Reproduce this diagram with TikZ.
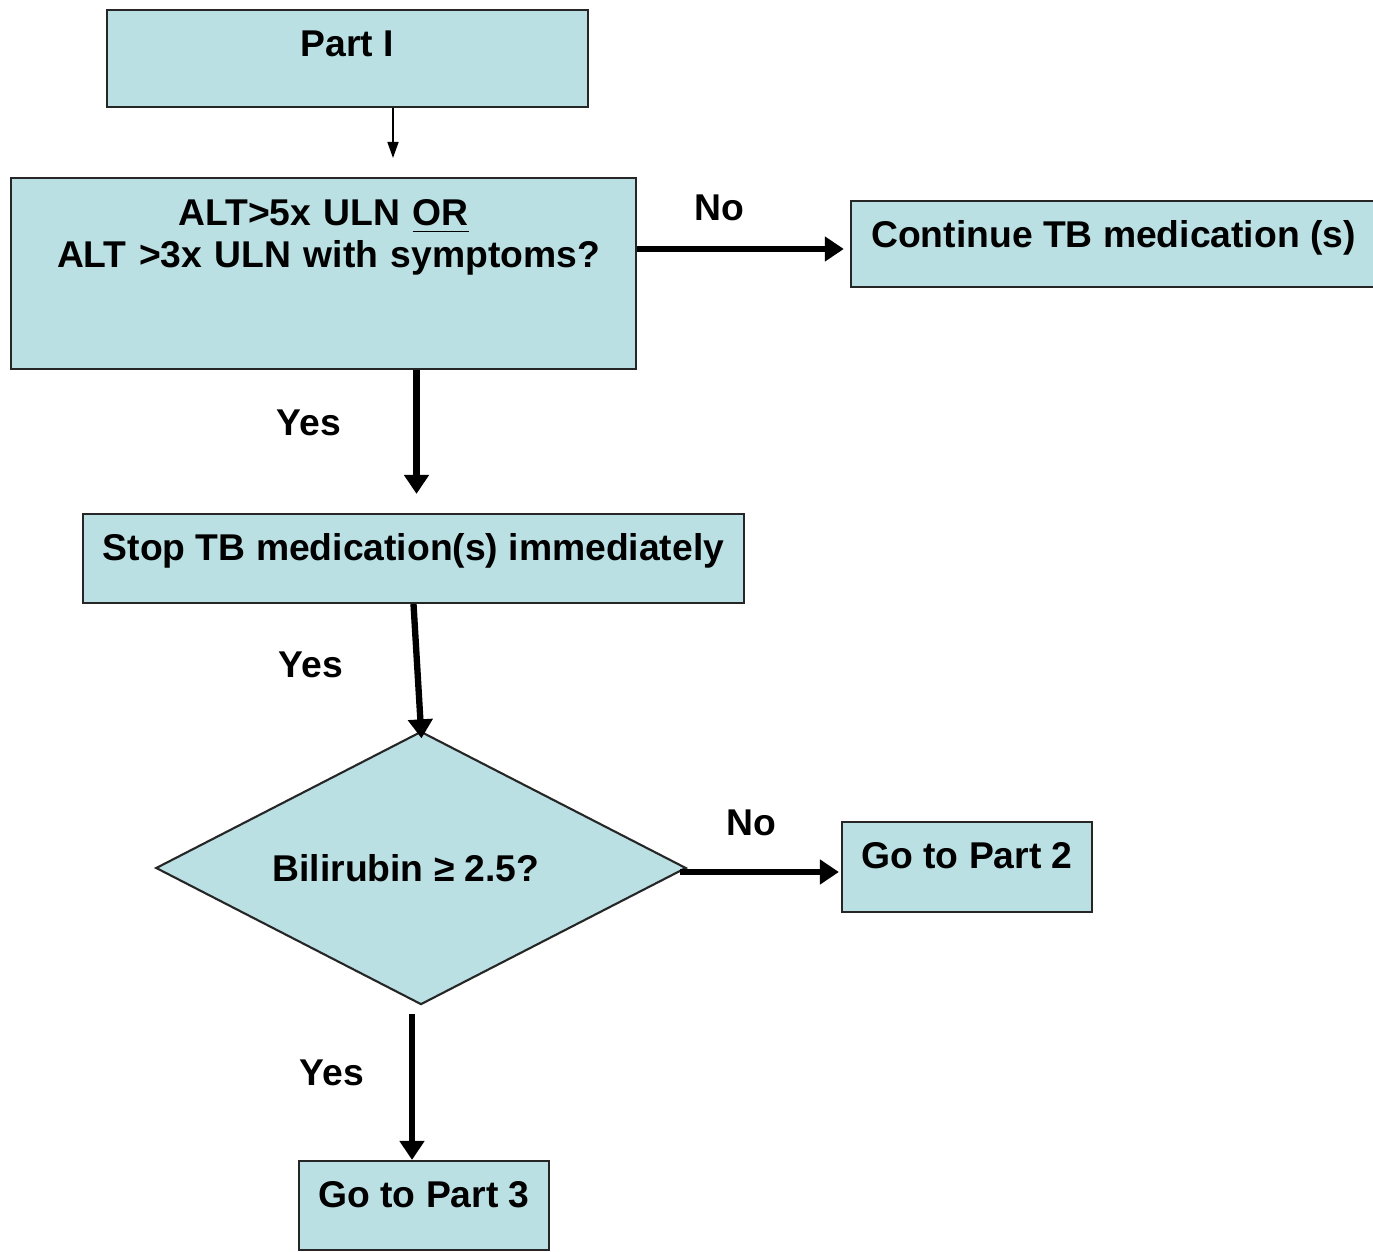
\documentclass[tikz,border=0pt]{standalone}
\usepackage{fontspec}
\setmainfont{Liberation Sans}
\usetikzlibrary{positioning,shapes.geometric,arrows.meta,calc}
\definecolor{boxblue}{RGB}{186,224,227}
\tikzset{
  txt/.style={font=\bfseries\fontsize{10.6}{11.9}\selectfont},
  box/.style={txt, draw=black!85, fill=boxblue, line width=0.6pt, inner sep=0pt},
  decision/.style={box, diamond, aspect=2},
  fatarrow/.style={line width=1.8pt, -{Triangle[length=0.19cm,width=0.24cm]}},
  thinarrow/.style={line width=0.45pt, -{Triangle[length=0.16cm,width=0.11cm]}},
  lbl/.style={txt, inner sep=0pt}
}

\begin{document}
\begin{tikzpicture}[x=0.01cm,y=-0.01cm]
			\fill[white] (0,0) rectangle (1373,1252);
			\useasboundingbox (0,0) rectangle (1373,1252);
% boxes
			\node[box, minimum width=4.81cm, text height=0.47cm, text depth=0.50cm] (partone) at (347.5,58.5) {Part I};
			\node[box, minimum width=6.25cm, text width=6.25cm, align=center, text height=0.48cm, text depth=1.43cm] (alt) at (323.5,273.5) {ALT>5x ULN \underline{OR}\\\hspace*{0.1cm}ALT >3x ULN with symptoms?};
			\node[box, minimum width=5.25cm, text height=0.47cm, text depth=0.39cm] (cont) at (1113.5,244) {Continue TB medication (s)};
			\node[box, minimum width=6.61cm, text height=0.46cm, text depth=0.43cm] (stopmed) at (413.5,558.5) {Stop TB medication(s) immediately};
			\node[decision, minimum width=5.30cm, minimum height=2.73cm] (bili) at (421,868) {Bilirubin ≥ 2.5?\hspace*{0.3cm}};
			\node[box, minimum width=2.50cm, text height=0.46cm, text depth=0.44cm] (parttwo) at (967,867) {Go to Part 2};
			\node[box, minimum width=2.50cm, text height=0.46cm, text depth=0.43cm] (partthree) at (424,1205.5) {Go to Part 3};

% labels
			\node[lbl] (noone) at (719,208) {No};
			\node[lbl] (yesone) at (309,423) {Yes};
			\node[lbl] (yestwo) at (311,665) {Yes};
			\node[lbl] (notwo) at (751,823) {No};
			\node[lbl] (yesthree) at (332,1073) {Yes};

% connectors
			\coordinate (tipone) at (393,158);
			\coordinate (endcont) at ($(cont.west)+(0,5)$);
			\coordinate (endstop) at ($(stopmed.north)+(3,0)$);
			\coordinate (endtwo) at ($(parttwo.west)+(0,5)$);
			\coordinate (endthree) at ($(partthree.north)+(-12,0)$);
			\draw[thinarrow] (partone.south -| tipone) -- (tipone);
			\draw[fatarrow, shorten >=0.06cm] (alt.east |- endcont) -- (endcont);
			\draw[fatarrow, shorten >=0.19cm] (alt.south -| endstop) -- (endstop);
			\draw[fatarrow, shorten >=-0.08cm] (stopmed.south) -- (bili.north);
			\draw[fatarrow, shorten <=-0.07cm, shorten >=0.02cm] (bili.east |- endtwo) -- (endtwo);
			\draw[fatarrow, shorten <=0.08cm] (bili.south -| endthree) -- (endthree);
\end{tikzpicture}
\end{document}
